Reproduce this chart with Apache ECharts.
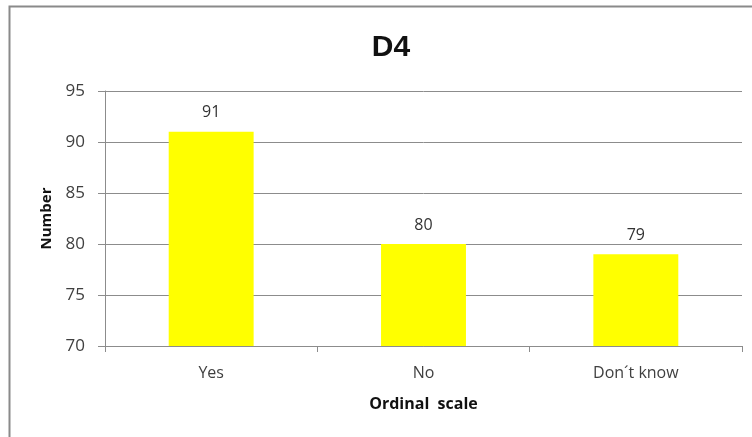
<!DOCTYPE html>
<html>
<head>
<meta charset="utf-8">
<script src="https://cdn.jsdelivr.net/npm/echarts@6/dist/echarts.min.js"></script>
<style>html,body{margin:0;padding:0;background:#fff;}#c{width:752px;height:437px;}</style>
</head>
<body>
<div id="c"></div>
<script>
const categories = ["Yes", "No", "Don\u00b4t know"];
const values = [91, 80, 79];
const yTicks = [70, 75, 80, 85, 90, 95];

const chart = echarts.init(document.getElementById('c'), null, {renderer: 'canvas'});
chart.setOption({
  animation: false,
  backgroundColor: '#fff',
  textStyle: {fontFamily: 'Open Sans'},
  title: {
    text: 'D4', left: 386, top: 28, textAlign: 'center',
    textStyle: {fontFamily: 'Liberation Sans', fontWeight: 'bold', fontSize: 30, color: '#111'}
  },
  graphic: [{
    type: 'rect', silent: true,
    shape: {x: 9.5, y: 6.5, width: 800, height: 500},
    style: {fill: 'none', stroke: '#8a8a8a', lineWidth: 2}
  }],
  grid: {left: 105, right: 10, top: 91, bottom: 91, containLabel: false},
  xAxis: {
    type: 'category', data: categories,
    name: 'Ordinal  scale', nameLocation: 'middle', nameGap: 50,
    nameTextStyle: {fontFamily: 'Open Sans', fontWeight: 'bold', fontSize: 16, color: '#111'},
    axisLine: {lineStyle: {color: '#8c8c8c', width: 1}},
    axisTick: {show: true, length: 6, inside: false, lineStyle: {color: '#8c8c8c'}},
    axisLabel: {fontSize: 16, color: '#404040', margin: 19, fontFamily: 'Open Sans'}
  },
  yAxis: {
    type: 'value', min: yTicks[0], max: yTicks[yTicks.length - 1], interval: 5,
    name: 'Number', nameLocation: 'middle', nameGap: 50, nameRotate: 90,
    nameTextStyle: {fontFamily: 'Open Sans', fontWeight: 'bold', fontSize: 15, color: '#111'},
    axisLine: {show: true, lineStyle: {color: '#8c8c8c', width: 1}},
    axisTick: {show: true, length: 7, lineStyle: {color: '#8c8c8c'}},
    axisLabel: {fontSize: 17, color: '#404040', margin: 20, fontFamily: 'Open Sans'},
    splitLine: {show: true, lineStyle: {color: '#8c8c8c', width: 1}}
  },
  series: [{
    type: 'bar', data: values, barWidth: '40%',
    itemStyle: {color: '#ffff00'},
    label: {show: true, position: 'top', distance: 11, fontSize: 16, color: '#333', fontFamily: 'Open Sans'}
  }]
});
</script>
</body>
</html>
